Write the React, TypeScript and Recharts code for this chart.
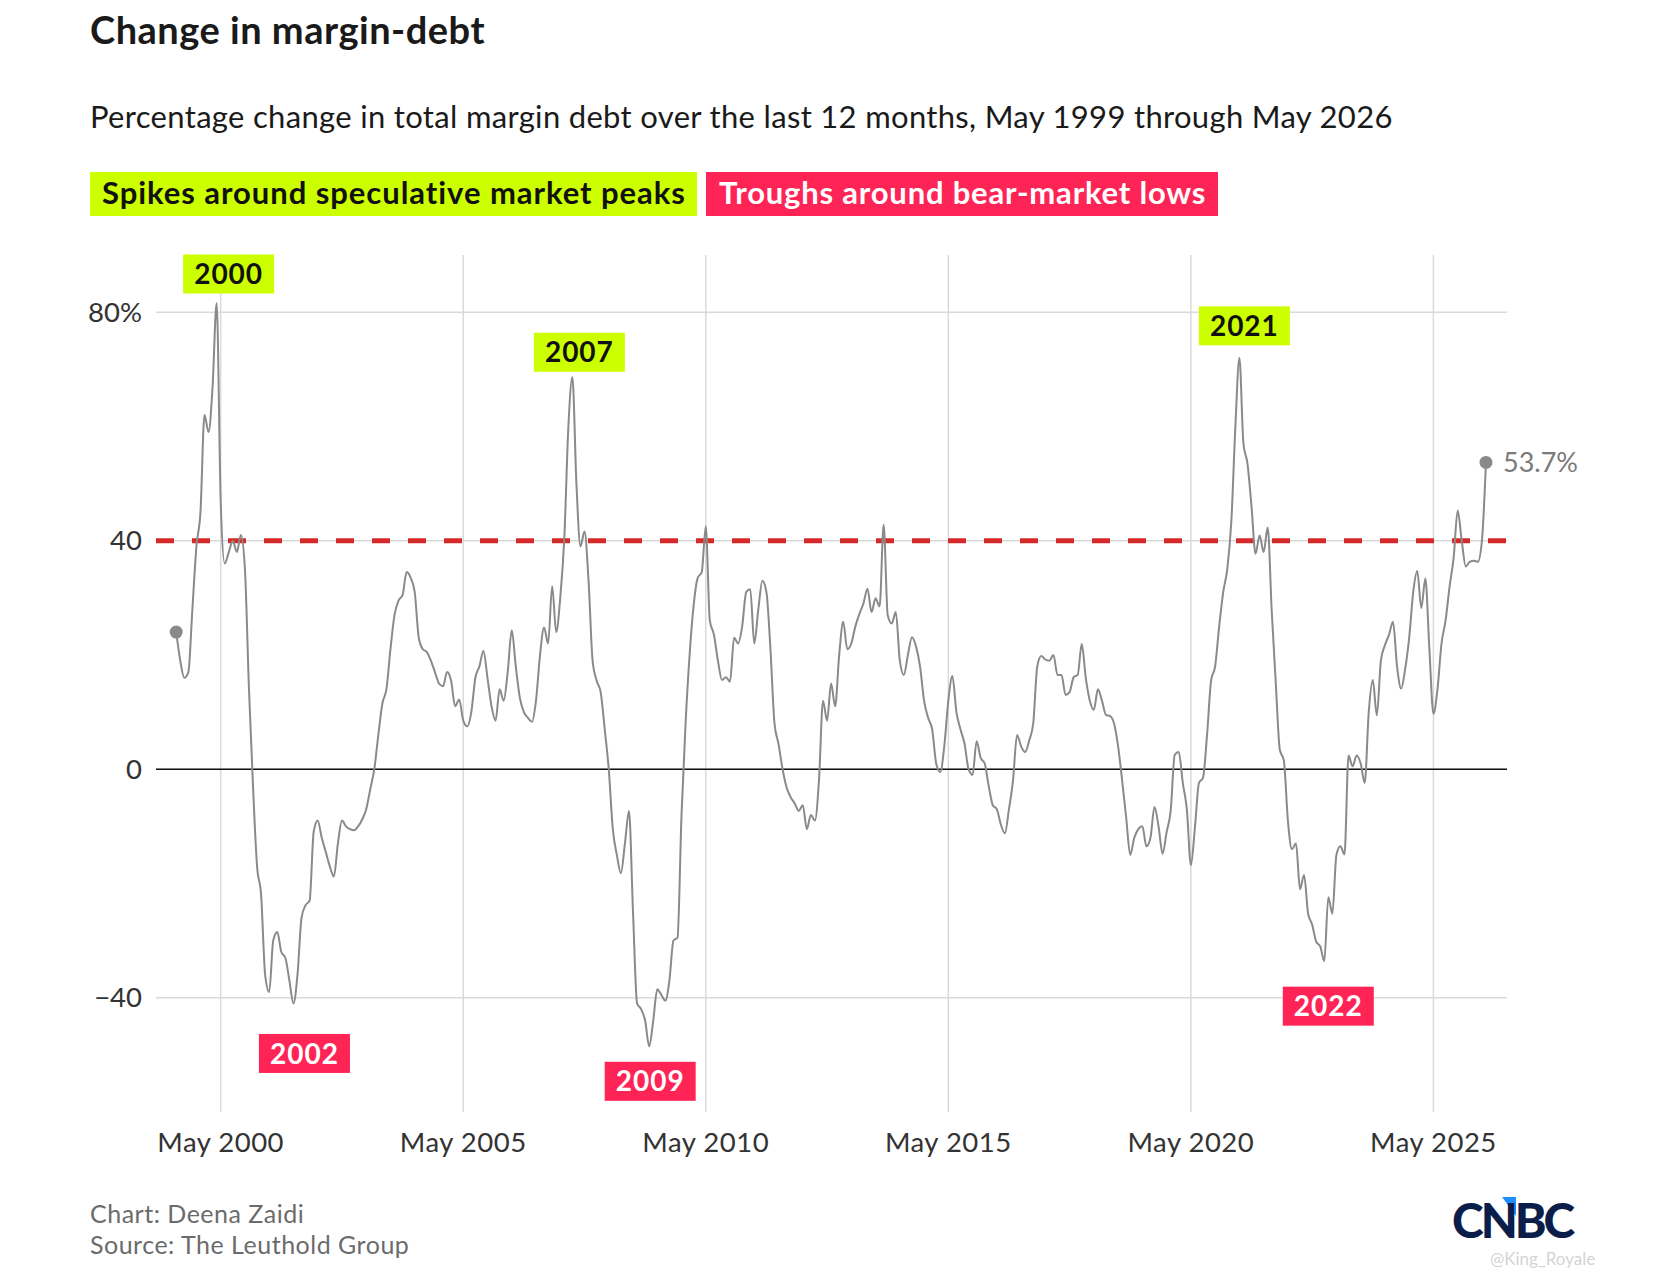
import React from "react";
import { LineChart, Line, XAxis, YAxis, ReferenceLine, ReferenceDot } from "recharts";

// Percentage change in margin debt over the last 12 months (month-end readings)
const y1999 = [24, 19, 16, 17, 28, 39, 45, 62]; // May–Dec
const y2000 = [59, 67, 81.6, 47, 36, 38, 40, 38, 41, 35, 14, -3];
const y2001 = [-17, -22, -36, -39, -30, -28.5, -32, -33, -37, -41, -36, -26];
const y2002 = [-23.8, -23, -11, -9, -12, -14.5, -17, -18.8, -13, -9, -10, -10.5];
const y2003 = [-10.7, -10, -8.8, -7, -3.5, 0, 6, 11.5, 14, 21, 27, 29.5];
const y2004 = [30.5, 34.5, 33.5, 31, 23, 21, 20.5, 19, 17, 15, 14.5, 17];
const y2005 = [15.5, 11, 12.2, 8.5, 7.5, 10, 16, 18, 20.7, 16, 11, 8.5];
const y2006 = [14, 12, 17, 24.3, 18, 12.5, 10, 9, 8.3, 12, 20, 24.8];
const y2007 = [22, 32, 24, 30, 40.4, 59.8, 68.6, 50, 39, 41.6, 33, 19];
const y2008 = [15.5, 13.5, 7, 0, -10.5, -15, -18.2, -13, -7.3, -25, -41, -42];
const y2009 = [-44, -48.5, -44, -38.5, -39.5, -40.5, -37, -30, -29.5, -8, 8, 20];
const y2010 = [28.7, 33.5, 34.5, 42.5, 26, 23.6, 19, 15.6, 16.1, 15.3, 23, 22];
const y2011 = [25, 31, 31.5, 22, 28, 33, 31, 21, 8, 4.4, 0, -3.2];
const y2012 = [-4.9, -6, -7.3, -6.3, -10.5, -8, -9, -2, 12, 8.5, 15, 11];
const y2013 = [20, 25.8, 21, 22, 25, 27.2, 29, 31.6, 27.5, 29.9, 28.5, 42.8];
const y2014 = [27, 25.5, 27.5, 19, 16.5, 20, 23.1, 21.5, 18, 12, 9, 7];
const y2015 = [1, -0.5, 4, 12, 16.3, 10, 7, 4.5, 0, -1, 4.9, 2];
const y2016 = [1, -3, -6.3, -7, -9.7, -11.2, -7, -2, 6, 4, 3, 5];
const y2017 = [8, 18, 19.8, 19.2, 19, 20, 16.5, 16.5, 13, 13.5, 16.1, 16.5];
const y2018 = [21.9, 16, 12, 10.4, 14, 12, 9.5, 9.3, 8, 4, -2, -8.5];
const y2019 = [-15, -12, -10.5, -10, -13.5, -12, -6.6, -10, -14.8, -11, -7.3, 2.5];
const y2020 = [3, -2.4, -7, -16.8, -10.2, -2.4, -1.5, 6, 15.5, 18, 25, 31];
const y2021 = [35, 43.3, 59.8, 72, 57, 53.5, 46, 37.7, 40.9, 38, 42.3, 27.7];
const y2022 = [15.1, 3.4, 1.5, -9, -14, -13, -21, -18.5, -25.3, -27.2, -30.2, -31];
const y2023 = [-33.6, -22.4, -25.3, -15, -13.5, -14.9, 2.4, 0.5, 2.4, 1, -2.4, 10];
const y2024 = [15.6, 9.4, 19, 21.7, 23.5, 25.8, 18, 14.1, 17.5, 23, 31, 34.7];
const y2025 = [28.2, 33.4, 21, 9.7, 14, 22, 26, 32, 37, 45.3, 40, 35.5];
const y2026 = [36.3, 36.5, 36.3, 40, 53.7]; // Jan–May

const values = [
  ...y1999, ...y2000, ...y2001, ...y2002, ...y2003, ...y2004, ...y2005,
  ...y2006, ...y2007, ...y2008, ...y2009, ...y2010, ...y2011, ...y2012,
  ...y2013, ...y2014, ...y2015, ...y2016, ...y2017, ...y2018, ...y2019,
  ...y2020, ...y2021, ...y2022, ...y2023, ...y2024, ...y2025, ...y2026,
];

const startYear = 1999;
const startMonth = 5; // May

const xTickYears = [2000, 2005, 2010, 2015, 2020, 2025];
const yTicks = [-40, 0, 40, 80];
const yTickLabels = ["\u221240", "0", "40", "80%"];

const peakLabels = ["2000", "2007", "2021"];
const peakIndex = [10, 98, 263];
const troughLabels = ["2002", "2009", "2022"];
const troughIndex = [29, 117, 284];

const threshold = 40;

// month-end point, on a decimal-year axis; ticks sit on the 1st of May
const data = values.map((v, i) => ({ t: startYear + (startMonth + i) / 12, v }));
const xTicks = xTickYears.map((y) => y + 4 / 12);
const last = data.length - 1;

const GREEN = "#CCFF00";
const RED = "#FF2456";
const GRID = "#dadada";
const FONT = "Lato, 'Open Sans', sans-serif";

// box offsets from the marked point, in px
const peakOffsets = [[12, -29], [7, -25], [5, -32]];
const troughOffsets = [[11, 50], [1, 35], [4, 45]];

function TagBox(props: any) {
  const { cx, cy, label, dx, dy, fill, color } = props;
  const w = 91;
  const h = 39;
  const x = cx + dx;
  const y = cy + dy;
  return (
    <g>
      <rect x={x - w / 2} y={y - h / 2} width={w} height={h} fill={fill} />
      <text x={x} y={y} dy="0.36em" textAnchor="middle" fontSize={28} fontWeight={700} letterSpacing={1} fill={color} fontFamily={FONT}>
        {label}
      </text>
    </g>
  );
}

function EndDot(props: any) {
  const { cx, cy, index } = props;
  if (index !== 0 && index !== last) return <g key={index} />;
  return (
    <g key={index}>
      <circle cx={cx} cy={cy} r={6.5} fill="#8a8a8a" />
      {index === last && (
        <text x={cx + 17} y={cy} dy="0.35em" fontSize={27} fill="#7a7a7a" fontFamily={FONT}>
          {values[last]}%
        </text>
      )}
    </g>
  );
}

export default function App() {
  return (
    <div style={{ position: "absolute", left: 0, top: 0, width: 1668, height: 1271, background: "#fff", fontFamily: FONT }}>
      <svg width={1668} height={1271} style={{ position: "absolute", left: 0, top: 0 }}>
        <text x={90} y={44} fontSize={38} fontWeight={700} letterSpacing={0.5} fill="#1a1a1a" fontFamily={FONT}>
          Change in margin-debt
        </text>
        <text x={90} y={128} fontSize={31} letterSpacing={0.32} fill="#1a1a1a" fontFamily={FONT}>
          Percentage change in total margin debt over the last 12 months, May 1999 through May 2026
        </text>
        <rect x={90} y={172} width={607} height={44} fill={GREEN} />
        <text x={102} y={204} fontSize={31} fontWeight={700} letterSpacing={0.95} fill="#111" fontFamily={FONT}>
          Spikes around speculative market peaks
        </text>
        <rect x={706} y={172} width={512} height={44} fill={RED} />
        <text x={719} y={204} fontSize={31} fontWeight={700} letterSpacing={0.8} fill="#fff" fontFamily={FONT}>
          Troughs around bear-market lows
        </text>
        <text x={90} y={1223} fontSize={25} letterSpacing={0.5} fill="#6b6b6b" fontFamily={FONT}>
          Chart: Deena Zaidi
        </text>
        <text x={90} y={1254} fontSize={25} letterSpacing={0.5} fill="#6b6b6b" fontFamily={FONT}>
          Source: The Leuthold Group
        </text>
        <polygon points="1502,1197 1516,1197 1516,1216" fill="#1f8fff" />
        <text x={1452} y={1238} fontSize={48} fontWeight={900} fill="#0b1e4a" letterSpacing={-3} fontFamily={FONT}>
          CNBC
        </text>
        <text x={1490} y={1265} fontSize={17} fill="#c8c8c8" fillOpacity={0.8} fontFamily={FONT}>
          @King_Royale
        </text>
      </svg>
      <div style={{ position: "absolute", left: 0, top: 0 }}>
        <LineChart width={1668} height={1271} data={data} margin={{ top: 255, right: 161, bottom: 119, left: 96 }}>
          <XAxis
            dataKey="t"
            type="number"
            domain={[1999.0, 2026.85]}
            ticks={xTicks}
            tickFormatter={(t: number) => "May " + Math.round(t - 4 / 12)}
            interval={0}
            axisLine={false}
            tickLine={false}
            tickSize={0}
            tickMargin={20}
            height={40}
            tick={{ fontSize: 27.5, fill: "#333", fontFamily: FONT, letterSpacing: 0.5 }}
          />
          <YAxis
            type="number"
            domain={[-60, 90]}
            ticks={yTicks}
            tickFormatter={(v: number) => yTickLabels[yTicks.indexOf(v)]}
            interval={0}
            axisLine={false}
            tickLine={false}
            tickSize={0}
            tickMargin={14}
            width={60}
            tick={{ fontSize: 27.5, fill: "#333", fontFamily: FONT }}
          />
          {xTicks.map((t) => (
            <ReferenceLine key={"gx" + t} x={t} stroke={GRID} strokeWidth={1.5} />
          ))}
          {yTicks.map((v) => (
            <ReferenceLine key={"gy" + v} y={v} stroke={GRID} strokeWidth={1.5} />
          ))}
          <ReferenceLine y={0} stroke="#111" strokeWidth={1.5} />
          <ReferenceLine y={threshold} stroke="#d42a2a" strokeWidth={5} strokeDasharray="18 18" />
          <Line
            dataKey="v"
            type="monotone"
            stroke="#8a8a8a"
            strokeWidth={2}
            dot={EndDot}
            activeDot={false}
            isAnimationActive={false}
          />
          {peakIndex.map((idx, k) => (
            <ReferenceDot
              key={"p" + k}
              x={data[idx].t}
              y={data[idx].v}
              shape={(p: any) => (
                <TagBox cx={p.cx} cy={p.cy} label={peakLabels[k]} dx={peakOffsets[k][0]} dy={peakOffsets[k][1]} fill={GREEN} color="#111" />
              )}
            />
          ))}
          {troughIndex.map((idx, k) => (
            <ReferenceDot
              key={"t" + k}
              x={data[idx].t}
              y={data[idx].v}
              shape={(p: any) => (
                <TagBox cx={p.cx} cy={p.cy} label={troughLabels[k]} dx={troughOffsets[k][0]} dy={troughOffsets[k][1]} fill={RED} color="#fff" />
              )}
            />
          ))}
        </LineChart>
      </div>
    </div>
  );
}
